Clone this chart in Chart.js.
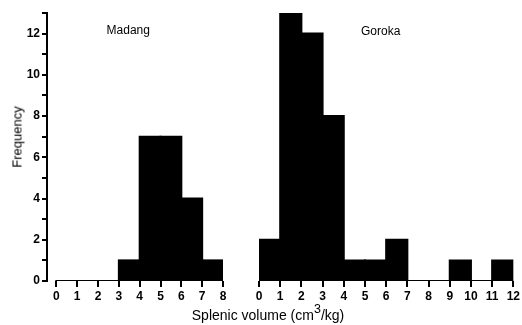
<!DOCTYPE html>
<html>
<head>
<meta charset="utf-8">
<script src="https://cdn.jsdelivr.net/npm/chart.js@4/dist/chart.umd.min.js"></script>
<style>
  body { margin: 0; background: #fff; }
  #wrap { position: relative; width: 522px; height: 325px; font-family: 'Liberation Sans', Arial, sans-serif; color: #000; }
  #leftBox { position: absolute; left: 0; top: 0; width: 240px; height: 325px; }
  #rightBox { position: absolute; left: 240px; top: 0; width: 282px; height: 325px; }
  .ytitle { position: absolute; left: 17px; top: 137px; font-size: 13px; white-space: nowrap;
            transform: translate(-50%, -50%) rotate(-90deg); }
  .xtitle { position: absolute; left: 268px; top: 307px; font-size: 14px; line-height: 16px; white-space: nowrap;
            transform: translateX(-50%); }
  .xtitle span { font-size: 12.5px; position: relative; top: -7px; }
</style>
</head>
<body>
<div id="wrap">
  <div id="leftBox"><canvas id="madangChart"></canvas></div>
  <div id="rightBox"><canvas id="gorokaChart"></canvas></div>
  <div class="ytitle">Frequency</div>
  <div class="xtitle">Splenic volume (cm<span>3</span>/kg)</div>
</div>
<script>
// data: bin edges (cm3/kg) and counts per bin
const madangEdges = [0, 1, 2, 3, 4, 5, 6, 7, 8];
const madangFreq = [0, 0, 0, 1, 7, 7, 4, 1];
const gorokaEdges = [0, 1, 2, 3, 4, 5, 6, 7, 8, 9, 10, 11, 12];
const gorokaFreq = [2, 13, 12, 8, 1, 1, 2, 0, 0, 1, 0, 1];
const yTickLabels = [0, 2, 4, 6, 8, 10, 12];

Chart.defaults.font.family = "'Liberation Sans', Arial, sans-serif";
Chart.defaults.color = '#000';

// bars centred in each bin
function toBars(edges, freq) {
    return freq.map((f, i) => ({ x: (edges[i] + edges[i + 1]) / 2, y: f }));
}

// baseline along the whole x range
function toBaseline(edges) {
    return [{ x: edges[0], y: 0 }, { x: edges[edges.length - 1], y: 0 }];
}

// small text label placed in data coordinates
const panelLabel = {
    id: 'panelLabel',
    afterDraw(chart, args, opts) {
        const ctx = chart.ctx;
        ctx.save();
        ctx.font = '12px ' + Chart.defaults.font.family;
        ctx.fillStyle = '#000';
        ctx.textAlign = 'center';
        ctx.textBaseline = 'alphabetic';
        ctx.fillText(opts.text, chart.scales.x.getPixelForValue(opts.x), chart.scales.y.getPixelForValue(opts.y));
        ctx.restore();
    }
};

function makeChart(canvasId, edges, freq, label, xMin, showY, pad) {
    const ctx = document.getElementById(canvasId).getContext('2d');
    return new Chart(ctx, {
        type: 'bar',
        data: {
            datasets: [
                {
                    data: toBars(edges, freq),
                    backgroundColor: '#000',
                    borderWidth: 0,
                    inflateAmount: 1,
                    barPercentage: 1,
                    categoryPercentage: 1,
                    order: 2
                },
                {
                    type: 'line',
                    data: toBaseline(edges),
                    borderColor: '#000',
                    borderWidth: 2,
                    pointRadius: 0,
                    order: 1
                }
            ]
        },
        options: {
            responsive: true,
            maintainAspectRatio: false,
            animation: false,
            layout: { padding: pad },
            plugins: {
                legend: { display: false },
                tooltip: { enabled: false },
                panelLabel: label
            },
            scales: {
                x: {
                    type: 'linear',
                    min: xMin,
                    max: edges[edges.length - 1],
                    offset: false,
                    afterBuildTicks: s => { s.ticks = edges.map(v => ({ value: v })); },
                    afterFit: s => { s.height = 22; },
                    border: { display: false },
                    grid: { drawOnChartArea: false, offset: false, tickLength: 6, color: '#000', lineWidth: 2 },
                    ticks: { font: { size: 12, weight: 'bold' }, padding: 2, autoSkip: false, maxRotation: 0 }
                },
                y: {
                    display: showY,
                    min: 0,
                    max: 13,
                    afterFit: s => { if (showY) s.width = 47; },
                    border: { display: true, color: '#000', width: 2 },
                    grid: { drawOnChartArea: false, tickLength: 5, color: '#000', lineWidth: 2 },
                    ticks: {
                        stepSize: 1,
                        padding: 2,
                        font: { size: 12, weight: 'bold' },
                        callback: v => yTickLabels.includes(v) ? v : ''
                    }
                }
            }
        },
        plugins: [panelLabel]
    });
}

makeChart('madangChart', madangEdges, madangFreq, { text: 'Madang', x: 3.45, y: 12 },
    -0.45, true, { left: 0, right: 17, top: 13, bottom: 22 });
makeChart('gorokaChart', gorokaEdges, gorokaFreq, { text: 'Goroka', x: 5.74, y: 11.94 },
    0, false, { left: 19, right: 7, top: 13, bottom: 22 });
</script>
</body>
</html>
